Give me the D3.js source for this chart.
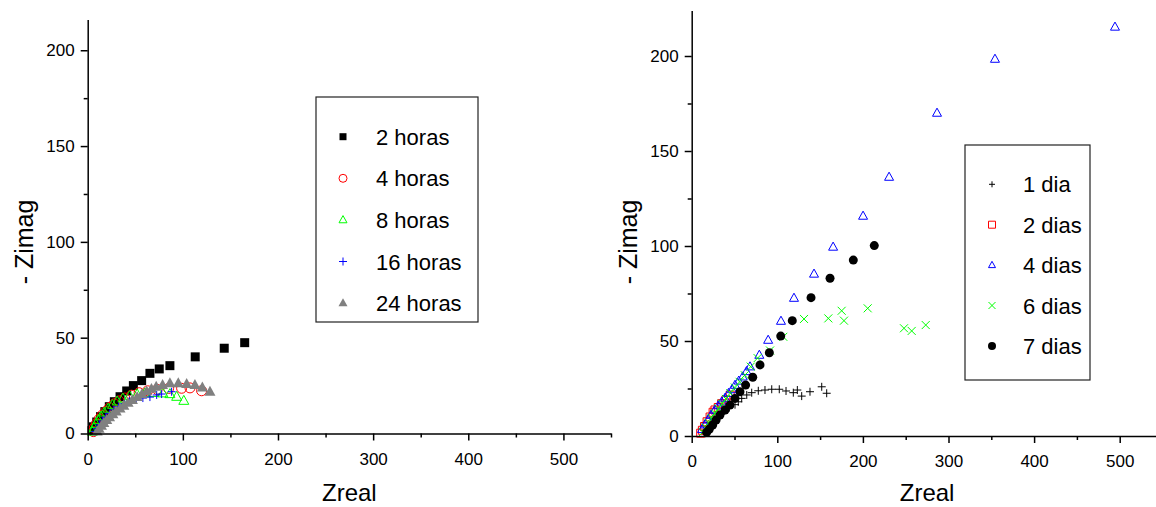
<!DOCTYPE html>
<html>
<head>
<meta charset="utf-8">
<script src="https://cdn.jsdelivr.net/npm/d3@7"></script>
<style>
  body { margin: 0; background: #fff; }
  svg { display: block; }
  text { font-family: "Liberation Sans", Arial, sans-serif; fill: #000; }
</style>
</head>
<body>
<svg id="chart" width="1156" height="507"></svg>
<script>
// Nyquist data (Zreal, -Zimag) for each immersion time

// Left panel: hours
const horas2 = [[4.5,1.5],[6,3.5],[9.5,6],[13.5,8.8],[18,11.4],[22.7,14],[28,16.6],[34,19.2],[41,22.2],[48,25],[56.7,27.6],[65.4,31.4],[75.2,33.7],[86.4,35.4],[113,40],[143.5,44.5],[165,47.4]];
const horas4 = [[6,1],[7,3],[9,5],[12,7.5],[15,9.5],[19,11.5],[23,13.5],[28,15.5],[33,17],[39,18.5],[46,20],[54,21.3],[63,22.3],[73,23],[85,23.5],[98.7,23.6],[107.5,23.8],[119.7,22.3]];
const horas8 = [[5,1],[6.5,3],[8.5,5],[11,7],[14,9],[17.5,11],[21.5,13],[26,15],[31,16.8],[37,18.3],[44,19.5],[52,20.5],[60,21],[69,21.2],[79,21],[86.4,20.6],[93.5,19.2],[101,17.1]];
const horas16 = [[8,1],[10,2.5],[12.5,4.5],[15.5,6.5],[19,8.5],[23,10.5],[27.5,12.3],[32.5,14],[38,15.5],[44,16.8],[51,17.8],[58,18.5],[65.4,19],[72.5,20.1],[77.7,20.6],[88.2,21.8]];
const horas24 = [[10,1],[12,2.5],[14.5,4],[17,5.5],[20,7],[23,8.5],[26.5,10],[30,11.5],[34,13],[38,14.5],[42.5,16],[47,17.5],[52,19],[57,20.5],[62,22],[67,23.3],[72,24.4],[78.7,25.3],[86.4,26.2],[95.2,26.2],[104,25.8],[112.7,25.3],[120.5,24],[128.5,21.8]];
const labelsHoras = ["2 horas", "4 horas", "8 horas", "16 horas", "24 horas"];

// Right panel: days
const dia1 = [[16,1.5],[18.5,3],[21.5,4.8],[25,6.8],[29,9],[33.5,11.2],[38.5,13.3],[44,15],[50.6,16.5],[54.4,18],[58.4,19.8],[64.3,21.6],[70.1,22.8],[77.8,23.8],[85.6,24.2],[93.5,24.6],[102.3,24.6],[110.2,23.7],[118.7,22.8],[123.4,24.2],[128.5,21],[138.2,23.3],[151.9,25.9],[157.7,22.5]];
const dias2 = [[10.5,1.5],[12.5,3],[15,5],[18,7.5],[21.5,10],[25,12.5],[27.2,13.7],[31,15],[35,17],[40,19],[45,21.5]];
const dias4 = [[12,3.5],[15.5,6],[19,8.5],[22.5,11],[27,13.7],[31,16],[35,18],[39,20],[43,22.5],[47,24.5],[50.6,26.8],[55,29],[59.6,31.2],[64,34],[68.1,36.5],[79,42.6],[89.3,50.5],[104.3,60.5],[119.5,72.6],[142.9,85.3],[165.2,99.5],[200.2,115.8],[230.6,136.3],[286.6,170],[354.3,198.4],[494.5,215.3]];
const dias6 = [[13,2],[16,4.5],[19.5,7],[23,9.5],[27,12],[31,14.5],[35.5,17],[40,19.5],[45,22.5],[50.5,25.5],[56,28.5],[62,32],[69,36.5],[77,41],[91.5,45],[107,52.2],[131.2,61.6],[159.6,61.9],[175.2,65.9],[177.9,60.7],[205.6,67.2],[248,56.7],[257,55.3],[273.4,58.4]];
const dias7 = [[17.5,2],[20.5,3.5],[24.5,5.8],[28.5,8.4],[33,11],[39,13.7],[44.7,16.3],[50.6,19.8],[56.4,23.3],[63,26.8],[71.3,30.9],[79.8,37.4],[90.7,43.8],[104,52.6],[117.5,60.7],[139.4,72.8],[161.6,83],[188.8,92.6],[213.3,100.2]];
const labelsDias = ["1 dia", "2 dias", "4 dias", "6 dias", "7 dias"];

// Axis ticks
const xMajor = [0, 100, 200, 300, 400, 500];
const xMinor = [50, 150, 250, 350, 450, 550];
const yMajor = [0, 50, 100, 150, 200];
const yMinor = [25, 75, 125, 175];

const svg = d3.select("#chart");

// Marker path builders (centered at 0,0)
const markers = {
  square: s => `M${-s/2},${-s/2}h${s}v${s}h${-s}Z`,
  circle: s => `M${s/2},0A${s/2},${s/2} 0 1,1 ${-s/2},0A${s/2},${s/2} 0 1,1 ${s/2},0Z`,
  triangle: s => { const h = s * 0.9; return `M0,${-h*0.6}L${s/2},${h*0.4}L${-s/2},${h*0.4}Z`; },
  plus: s => `M${-s/2},0H${s/2}M0,${-s/2}V${s/2}`,
  cross: s => `M${-s/2},${-s/2}L${s/2},${s/2}M${s/2},${-s/2}L${-s/2},${s/2}`
};

function drawPanel(cfg) {
  const x = d3.scaleLinear().domain(cfg.xDomain).range(cfg.xRange);
  const y = d3.scaleLinear().domain(cfg.yDomain).range(cfg.yRange);
  const g = svg.append("g");

  // Series
  cfg.series.forEach(s => {
    g.append("g").selectAll("path").data(s.data).join("path")
      .attr("transform", d => `translate(${x(d[0])},${y(d[1])})`)
      .attr("d", markers[s.shape](s.size))
      .attr("fill", s.fill)
      .attr("stroke", s.stroke)
      .attr("stroke-width", s.sw);
  });

  // X axis: major + minor ticks
  const gx = g.append("g").attr("transform", `translate(0,${y(0)})`);
  gx.call(d3.axisBottom(x).tickValues(xMajor).tickSize(7).tickSizeOuter(0).tickPadding(12).tickFormat(d3.format("d")));
  gx.append("g").call(d3.axisBottom(x).tickValues(xMinor).tickSize(4).tickFormat(""))
    .select(".domain").remove();

  // Y axis: major + minor ticks
  const gy = g.append("g").attr("transform", `translate(${x(0)},0)`);
  gy.call(d3.axisLeft(y).tickValues(yMajor).tickSize(7).tickSizeOuter(0).tickPadding(6).tickFormat(d3.format("d")));
  gy.append("g").call(d3.axisLeft(y).tickValues(yMinor).tickSize(4).tickFormat(""))
    .select(".domain").remove();

  g.selectAll(".domain, .tick line").attr("stroke", "#000").attr("stroke-width", 1.5);
  g.selectAll(".tick text").style("font-size", "17px").attr("fill", "#000")
    .style("font-family", '"Liberation Sans", Arial, sans-serif');

  // Axis titles
  g.append("text")
    .attr("x", (cfg.xRange[0] + cfg.xRange[1]) / 2)
    .attr("y", cfg.xTitleY)
    .attr("text-anchor", "middle")
    .style("font-size", "24px")
    .text("Zreal");
  g.append("text")
    .attr("transform", `translate(${cfg.yTitleX},242) rotate(-90)`)
    .attr("text-anchor", "middle")
    .style("font-size", "25px")
    .text("- Zimag");

  // Legend
  const lg = g.append("g");
  lg.append("rect")
    .attr("x", cfg.legend.x).attr("y", cfg.legend.y)
    .attr("width", cfg.legend.w).attr("height", cfg.legend.h)
    .attr("fill", "#fff").attr("stroke", "#222").attr("stroke-width", 1.2);
  cfg.series.forEach((s, i) => {
    const cy = cfg.legend.row0 + i * cfg.legend.step;
    lg.append("path")
      .attr("transform", `translate(${cfg.legend.symX},${cy})`)
      .attr("d", markers[s.shape](s.legendSize))
      .attr("fill", s.fill).attr("stroke", s.stroke).attr("stroke-width", s.sw);
    lg.append("text")
      .attr("x", cfg.legend.textX).attr("y", cy + 8)
      .style("font-size", "22px")
      .text(s.label);
  });
}

drawPanel({
  xDomain: [0, 550], xRange: [87.7, 611],
  yDomain: [0, 216], yRange: [433.5, 19.6],
  xTitleY: 501, yTitleX: 33,
  legend: { x: 316, y: 97, w: 162, h: 225, symX: 343, textX: 376, row0: 136.7, step: 41.6 },
  series: [
    { data: horas2, label: labelsHoras[0], shape: "square", size: 9, legendSize: 7, fill: "#000", stroke: "none", sw: 0 },
    { data: horas4, label: labelsHoras[1], shape: "circle", size: 10, legendSize: 8, fill: "none", stroke: "#ff0000", sw: 1 },
    { data: horas8, label: labelsHoras[2], shape: "triangle", size: 10, legendSize: 8, fill: "none", stroke: "#00ff00", sw: 1 },
    { data: horas16, label: labelsHoras[3], shape: "plus", size: 8, legendSize: 8, fill: "none", stroke: "#0000ff", sw: 1 },
    { data: horas24, label: labelsHoras[4], shape: "triangle", size: 11, legendSize: 9, fill: "#808080", stroke: "none", sw: 0 }
  ]
});

drawPanel({
  xDomain: [0, 550], xRange: [691.7, 1162.5],
  yDomain: [0, 224], yRange: [436, 10.4],
  xTitleY: 501, yTitleX: 637,
  legend: { x: 965, y: 145, w: 125, h: 235, symX: 992, textX: 1023, row0: 184.3, step: 40.4 },
  series: [
    { data: dia1, label: labelsDias[0], shape: "plus", size: 8, legendSize: 6, fill: "none", stroke: "#000", sw: 1 },
    { data: dias2, label: labelsDias[1], shape: "square", size: 8, legendSize: 7, fill: "none", stroke: "#ff0000", sw: 1 },
    { data: dias4, label: labelsDias[2], shape: "triangle", size: 9, legendSize: 7, fill: "none", stroke: "#0000ff", sw: 1 },
    { data: dias6, label: labelsDias[3], shape: "cross", size: 8, legendSize: 7, fill: "none", stroke: "#00ff00", sw: 1 },
    { data: dias7, label: labelsDias[4], shape: "circle", size: 9, legendSize: 8, fill: "#000", stroke: "none", sw: 0 }
  ]
});
</script>
</body>
</html>
